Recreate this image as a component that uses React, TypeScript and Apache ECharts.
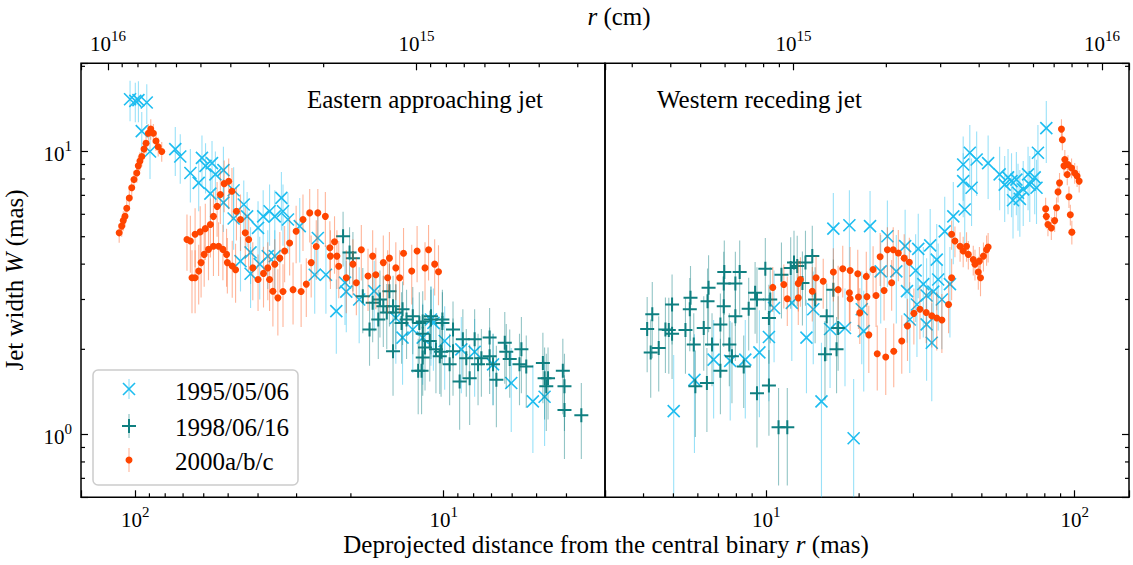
import { useEffect, useRef } from "react";
import * as echarts from "echarts";

type Pt = [number, number, number]; // [r (mas), W (mas), error on W (mas)]

// ---------------- data ----------------
const seriesNames = ["1995/05/06", "1998/06/16", "2000a/b/c"];
const panelTitles = ["Eastern approaching jet", "Western receding jet"];

const east1995: Pt[] = [
  [104, 15.3, 2.5], [100, 15.1, 2.4], [97.7, 15.2, 2.5], [91.8, 14.9, 2.4], [95.3, 11.8, 2.0],
  [89.6, 10.0, 2.0], [74.2, 10.2, 2.0], [71.5, 9.6, 1.9], [66.3, 8.4, 1.8], [62.3, 7.75, 1.6],
  [60.8, 9.5, 1.9], [59.2, 8.9, 1.8], [56.4, 9.1, 1.8], [55, 8.3, 1.7], [57.1, 7.1, 1.5],
  [51.8, 8.6, 1.8], [51.8, 6.6, 1.4], [48, 7.3, 1.5], [48, 5.8, 1.3], [44.5, 6.5, 1.4],
  [43.4, 5.9, 1.3], [42.3, 4.4, 1.0], [42.3, 3.7, 0.9], [45.6, 4.1, 0.9], [40, 5.37, 1.3],
  [38.5, 5.9, 1.4], [36.7, 6.15, 1.5], [35.3, 5.9, 1.4], [33.6, 6.86, 1.6], [33.2, 6.15, 1.5],
  [32, 5.75, 1.4], [29.3, 5.45, 1.4], [25.6, 4.95, 1.3], [37.2, 4.27, 1.0], [35.3, 4.27, 1.0],
  [39.5, 4.0, 1.0], [26.2, 3.67, 1.0], [24.1, 3.67, 1.0], [20.9, 3.44, 1.0], [20.7, 3.2, 0.9],
  [22.3, 2.73, 0.8], [18.8, 3.0, 0.9], [16.8, 3.21, 0.9], [14.3, 2.58, 0.8], [13.6, 2.2, 0.7],
  [12.6, 2.35, 0.7], [11.7, 2.2, 0.7], [11, 2.55, 0.8], [10.8, 2.48, 0.8], [9.93, 2.14, 0.7],
  [8.77, 2.0, 0.6], [7.94, 1.96, 0.6], [6.92, 1.77, 0.5], [6.04, 1.52, 0.5], [5.14, 1.31, 0.45],
  [4.71, 1.36, 0.45],
];

const east1998: Pt[] = [
  [21.2, 5.02, 1.1], [20.2, 4.4, 1.0], [19.7, 4.2, 1.0], [18.3, 3.08, 0.8], [17.4, 2.35, 0.6],
  [17, 2.92, 0.8], [16.3, 2.55, 0.7], [16.1, 3.0, 0.8], [15.7, 2.84, 0.8], [15.3, 2.7, 0.7],
  [15, 3.21, 0.8], [14.6, 2.84, 0.8], [14.6, 1.97, 0.6], [14.3, 2.7, 0.7], [13.7, 2.48, 0.7],
  [13.6, 2.77, 0.7], [13.2, 2.55, 0.7], [12.6, 2.62, 0.7], [12.1, 1.68, 0.5], [12, 2.48, 0.7],
  [11.8, 1.68, 0.5], [11.7, 2.27, 0.6], [11.7, 1.87, 0.5], [11.7, 2.51, 0.7], [11.5, 2.03, 0.6],
  [11.1, 2.14, 0.6], [11, 2.55, 0.7], [11, 2.62, 0.7], [10.6, 2.0, 0.6], [10.3, 1.89, 0.5],
  [10.2, 1.96, 0.6], [10.1, 2.48, 0.7], [10.1, 2.55, 0.7], [9.57, 1.77, 0.5], [9.33, 2.35, 0.6],
  [9.33, 1.97, 0.6], [8.88, 1.54, 0.5], [8.67, 2.17, 0.6], [8.45, 1.86, 0.5], [8.24, 1.58, 0.5],
  [7.94, 2.17, 0.6], [7.74, 1.77, 0.5], [7.55, 1.86, 0.5], [7.1, 2.2, 0.6], [7.1, 1.89, 0.5],
  [6.92, 1.77, 0.5], [6.75, 1.56, 0.5], [6.34, 2.11, 0.6], [6.27, 1.96, 0.5], [6.11, 1.85, 0.5],
  [5.68, 1.77, 0.5], [5.6, 2.0, 0.6], [5.4, 1.74, 0.5], [4.77, 1.79, 0.5], [4.71, 1.58, 0.45],
  [4.65, 1.48, 0.45], [4.59, 1.58, 0.45], [4.11, 1.68, 0.5], [4.06, 1.48, 0.45], [4.06, 1.22, 0.4],
  [3.58, 1.17, 0.35],
];

const east2000: Pt[] = [
  [112.8, 5.16, 0.4], [110.7, 5.45, 0.45], [109.4, 5.7, 0.45], [108, 5.9, 0.5], [106.6, 6.3, 0.5],
  [104.6, 6.85, 0.55], [102.7, 7.45, 0.6], [101, 7.96, 0.6], [98.9, 8.4, 0.65], [97.8, 8.9, 0.7],
  [96.6, 9.25, 0.7], [95.3, 9.6, 0.75], [93.7, 10.2, 0.8], [92.3, 10.7, 0.85], [90.7, 11.6, 0.9],
  [89.1, 12.0, 1.0], [87.4, 11.6, 0.9], [85.7, 10.9, 0.85], [84.3, 10.4, 0.8], [82.1, 10.0, 0.8],
  [68, 4.89, 1.1], [66.3, 4.83, 1.1], [64, 5.1, 1.2], [61.6, 5.2, 1.2], [59.3, 5.34, 1.2],
  [57.1, 5.52, 1.3], [55.8, 5.9, 1.3], [54.3, 6.4, 1.4], [53, 7.05, 1.5], [51.5, 7.7, 1.6],
  [49.8, 7.85, 1.6], [48.6, 7.24, 1.5], [47, 6.15, 1.3], [45.6, 5.75, 1.3], [44, 5.16, 1.2],
  [42.9, 4.89, 1.1], [65.5, 3.58, 0.9], [64, 3.58, 0.9], [62.3, 3.78, 0.9], [61.2, 4.05, 1.0],
  [59.8, 4.33, 1.0], [57.9, 4.51, 1.0], [55.8, 4.63, 1.0], [53.7, 4.63, 1.0], [52, 4.51, 1.0],
  [50.6, 4.33, 1.0], [50.3, 4.05, 0.9], [48.5, 3.94, 0.9], [47.3, 3.82, 0.9], [41.6, 3.88, 0.9],
  [40, 3.53, 0.8], [38.4, 3.71, 0.9], [37.2, 3.88, 0.9], [36.7, 3.53, 0.8], [35.8, 3.21, 0.8],
  [35.3, 4.0, 0.9], [34.5, 3.04, 0.8], [34, 4.2, 1.0], [33.2, 3.2, 0.8], [32.8, 4.45, 1.0],
  [31.6, 4.75, 1.1], [30.8, 3.25, 0.8], [30.1, 5.23, 1.2], [29, 3.2, 0.8], [28.6, 5.75, 1.3],
  [27.9, 3.4, 0.8], [27.2, 6.07, 1.3], [26.9, 4.05, 1.0], [25.9, 4.62, 1.1], [25.6, 6.07, 1.3],
  [24.2, 5.9, 1.3], [23.4, 4.57, 1.1], [23.3, 4.27, 1.0], [22.6, 4.8, 1.1], [22.2, 4.27, 1.0],
  [21.9, 3.93, 0.9], [20.7, 3.58, 0.9], [19.7, 4.0, 0.9], [19.2, 3.44, 0.8], [18.5, 4.5, 1.0],
  [17.6, 3.63, 0.9], [17, 4.27, 1.0], [16.6, 3.67, 0.9], [15.7, 4.05, 1.0], [15.2, 3.58, 0.9],
  [15, 4.2, 1.0], [14.3, 3.88, 0.9], [13.9, 3.58, 0.9], [13.5, 4.37, 1.0], [12.7, 3.78, 0.9],
  [12.2, 4.45, 1.0], [11.5, 3.88, 0.9], [11.2, 4.5, 1.0], [10.7, 4.0, 0.9], [10.4, 3.76, 0.9],
];

const west1995: Pt[] = [
  [5.01, 1.21, 0.7], [5.85, 1.56, 0.7], [6.75, 1.84, 0.7], [7.64, 1.82, 0.7], [8.55, 1.84, 0.7],
  [9.5, 1.95, 0.8], [10.2, 2.21, 0.9], [10.6, 2.8, 1.0], [12.1, 2.92, 1.1], [13.5, 2.2, 0.8],
  [14.2, 2.77, 1.0], [15.1, 1.31, 0.8], [16.1, 2.36, 0.9], [16.5, 5.34, 1.8], [18, 2.38, 0.9],
  [18.6, 5.49, 1.8], [19.2, 0.97, 0.6], [20.4, 2.77, 1.0], [20.7, 2.32, 0.9], [21.7, 5.45, 1.8],
  [23.5, 3.77, 1.3], [24.7, 5.02, 1.7], [26.4, 3.77, 1.3], [28.2, 4.63, 1.6], [28.6, 3.21, 1.1],
  [29.2, 2.55, 0.9], [30.5, 3.8, 1.3], [30.8, 2.88, 1.0], [31.1, 4.53, 1.5], [32.3, 3.4, 1.2],
  [33.1, 3.1, 1.1], [33.1, 2.45, 0.9], [34, 4.66, 1.6], [34.4, 2.11, 0.8], [34.8, 3.2, 1.1],
  [35.7, 4.15, 1.4], [36.1, 3.53, 1.2], [37.1, 3.0, 1.0], [37.9, 5.22, 1.7], [39.4, 3.4, 1.2],
  [40.4, 5.9, 1.9], [43.5, 9.0, 2.3], [43.5, 7.86, 2.0], [44, 6.24, 1.7], [45.7, 9.9, 2.5],
  [46.3, 7.45, 2.0], [48.1, 9.37, 2.4], [52.4, 9.1, 2.3], [57.1, 8.3, 2.1], [59.3, 7.64, 2.0],
  [60.8, 8.1, 2.1], [62.4, 7.86, 2.0], [63.1, 6.73, 1.8], [64.7, 7.96, 2.0], [65.5, 7.15, 1.9],
  [66.4, 6.8, 1.8], [68.1, 7.35, 1.9], [70.6, 8.3, 2.1], [71.5, 7.64, 2.0], [74.2, 8.1, 2.1],
  [75.2, 7.45, 1.9], [76, 9.9, 2.5], [80.9, 12.1, 3.0],
];

const west1998: Pt[] = [
  [4.11, 2.36, 0.7], [4.22, 1.95, 0.6], [4.27, 2.66, 0.8], [4.48, 2.02, 0.6], [4.71, 2.35, 0.7],
  [4.83, 2.34, 0.7], [4.95, 2.88, 0.8], [4.95, 2.27, 0.7], [5.47, 2.34, 0.7], [5.65, 2.77, 0.8],
  [5.68, 3.04, 0.9], [5.82, 2.08, 0.6], [5.89, 1.48, 0.5], [6.27, 2.38, 0.7], [6.42, 1.52, 0.5],
  [6.45, 2.96, 0.9], [6.5, 3.3, 1.0], [6.67, 2.08, 0.6], [7.1, 1.68, 0.5], [7.1, 2.45, 0.7],
  [7.28, 2.84, 0.8], [7.28, 3.42, 1.0], [7.31, 3.75, 1.1], [7.59, 2.08, 0.6], [7.74, 1.89, 0.6],
  [7.94, 3.42, 1.0], [7.94, 2.62, 0.8], [8.2, 3.75, 1.1], [8.45, 1.74, 0.5], [8.77, 2.78, 0.8],
  [9.2, 3.17, 0.9], [9.33, 3.0, 0.9], [9.33, 1.4, 0.5], [9.93, 3.85, 1.1], [10.2, 1.49, 0.5],
  [10.2, 2.58, 0.8], [10.3, 3.0, 0.9], [10.96, 1.06, 0.4], [11.7, 1.06, 0.4], [11.2, 3.67, 1.1],
  [12.0, 3.88, 1.1], [12.3, 4.05, 1.2], [12.6, 3.94, 1.1], [13.1, 3.43, 1.0], [13.4, 4.05, 1.2],
  [14.1, 4.27, 1.2], [14.4, 3.0, 0.9], [15.5, 1.92, 0.6], [15.7, 2.62, 0.8], [16.5, 3.25, 0.9],
  [16.9, 2.0, 0.6], [17.1, 2.38, 0.7],
];

const west2000: Pt[] = [
  [10.5, 3.31, 0.6], [11.4, 3.39, 0.6], [11.7, 3.02, 0.6], [12.7, 3.42, 0.7], [12.9, 3.53, 0.7],
  [12.7, 3.04, 0.6], [14.1, 3.21, 0.7], [14.5, 3.58, 0.7], [15.3, 3.48, 0.7], [16.5, 3.75, 0.8],
  [17.1, 3.25, 0.7], [17.7, 3.85, 0.8], [18.7, 3.8, 0.8], [18.6, 3.17, 0.7], [18.7, 3.02, 0.7],
  [19.8, 3.7, 0.8], [19.9, 3.06, 0.7], [20.1, 2.69, 0.6], [21.1, 3.62, 0.8], [21.2, 3.07, 0.7],
  [21.5, 2.25, 0.6], [22.2, 3.83, 0.8], [22.7, 3.1, 0.7], [22.9, 1.93, 0.5], [23.4, 4.25, 0.9],
  [24.1, 3.23, 0.7], [24.4, 1.88, 0.5], [24.7, 4.5, 0.9], [25.5, 3.44, 0.7], [25.8, 4.5, 0.9],
  [25.9, 1.97, 0.5], [26.8, 4.38, 0.9], [27.5, 2.14, 0.5], [28, 4.2, 0.9], [28.7, 2.42, 0.6],
  [29.1, 4.06, 0.9], [30.1, 2.68, 0.6], [31.5, 2.77, 0.6], [33, 2.7, 0.6], [34.4, 2.63, 0.6],
  [35.7, 2.58, 0.6], [37.1, 2.54, 0.6], [39, 2.88, 0.6], [39.9, 3.58, 0.6], [39.9, 5.1, 0.6],
  [40.9, 4.83, 0.6], [42.5, 4.63, 0.55], [43.5, 4.45, 0.55], [44.6, 4.63, 0.55], [45.2, 4.33, 0.5],
  [46.9, 4.15, 0.5], [47.5, 4.0, 0.5], [48.7, 3.75, 0.5], [49.1, 4.1, 0.5], [49.5, 3.58, 0.5],
  [50.6, 4.27, 0.5], [51.8, 4.5, 0.55], [52.4, 4.6, 0.55], [80.5, 6.27, 0.6], [80.9, 5.9, 0.55],
  [81.9, 5.52, 0.5], [84, 5.37, 0.5], [86.1, 5.7, 0.5], [87.3, 6.33, 0.55], [88.3, 7.2, 0.6],
  [89.3, 7.75, 0.65], [90.6, 12.0, 1.0], [91.2, 11.0, 0.9], [92.3, 8.9, 0.7], [92.9, 9.37, 0.75],
  [94.6, 8.3, 0.7], [95.1, 9.0, 0.7], [95.8, 6.92, 0.6], [96.8, 5.98, 0.5], [97.7, 8.75, 0.7],
  [97.9, 5.19, 0.5], [100, 8.4, 0.7], [101.8, 8.2, 0.7], [103.4, 7.86, 0.7],
];

// axis extents and tick values
const masRange: [number, number] = [3, 150];
const widthRange: [number, number] = [0.6, 20.5];
const CM_PER_MAS = 8.16e13;
const minorMas = [4, 5, 6, 7, 8, 9, 20, 30, 40, 50, 60, 70, 80, 90];
const minorCm = [3e14, 4e14, 5e14, 6e14, 7e14, 8e14, 9e14, 2e15, 3e15, 4e15, 5e15, 6e15, 7e15, 8e15, 9e15];
const minorW = [0.7, 0.8, 0.9, 2, 3, 4, 5, 6, 7, 8, 9, 20];

// ---------------- styling ----------------
const FONT = '"Liberation Serif", "Times New Roman", Times, serif';
const C95 = "#1dbdf0";
const C98 = "#0f7f80";
const C00 = "#ff4500";

const G = { top: 63.3, height: 434, width: 524, leftA: 81, leftB: 605 };

function powLabel(v: number) {
  const e = Math.log10(v);
  const n = Math.round(e);
  if (Math.abs(e - n) > 1e-6) return "";
  return `{b|10}{s|${n}}`;
}

const labelRich = {
  b: { fontFamily: FONT, fontSize: 21, color: "#000", lineHeight: 26, verticalAlign: "bottom" },
  s: { fontFamily: FONT, fontSize: 15, color: "#000", lineHeight: 13, verticalAlign: "top" },
};

function logAxis(gridIndex: number, position: string, min: number, max: number, inverse: boolean, showLabel: boolean, margin: number) {
  return {
    type: "log",
    logBase: 10,
    gridIndex,
    position,
    min,
    max,
    inverse,
    axisLine: { show: false },
    splitLine: { show: false },
    axisTick: { show: true, inside: true, length: 7, lineStyle: { color: "#000", width: 1.2 } },
    minorTick: { show: false },
    axisLabel: { show: showLabel, formatter: powLabel, rich: labelRich, margin },
  };
}

type Kind = "x" | "plus" | "dot";

function dataSeries(name: string, data: Pt[], kind: Kind, color: string, errOpacity: number, xAxisIndex: number, yAxisIndex: number) {
  return {
    type: "custom",
    name,
    xAxisIndex,
    yAxisIndex,
    clip: true,
    silent: true,
    dimensions: ["r", "w", "e"],
    encode: { x: 0, y: 1 },
    data,
    renderItem: (_params: any, api: any) => {
      const r = api.value(0) as number;
      const w = api.value(1) as number;
      const e = api.value(2) as number;
      const p = api.coord([r, w]);
      const hi = api.coord([r, w + e]);
      const lo = api.coord([r, Math.max(w - e, 0.05)]);
      const children: any[] = [
        {
          type: "line",
          shape: { x1: p[0], y1: hi[1], x2: p[0], y2: lo[1] },
          style: { stroke: color, opacity: errOpacity, lineWidth: 1.1 },
        },
      ];
      if (kind === "x") {
        const s = 6;
        children.push(
          { type: "line", shape: { x1: p[0] - s, y1: p[1] - s, x2: p[0] + s, y2: p[1] + s }, style: { stroke: color, lineWidth: 1.6 } },
          { type: "line", shape: { x1: p[0] - s, y1: p[1] + s, x2: p[0] + s, y2: p[1] - s }, style: { stroke: color, lineWidth: 1.6 } }
        );
      } else if (kind === "plus") {
        const s = 7;
        children.push(
          { type: "line", shape: { x1: p[0] - s, y1: p[1], x2: p[0] + s, y2: p[1] }, style: { stroke: color, lineWidth: 2 } },
          { type: "line", shape: { x1: p[0], y1: p[1] - s, x2: p[0], y2: p[1] + s }, style: { stroke: color, lineWidth: 2 } }
        );
      } else {
        children.push({ type: "circle", shape: { cx: p[0], cy: p[1], r: 3.5 }, style: { fill: color } });
      }
      return { type: "group", children };
    },
  };
}

function tickSeries(values: number[][], xAxisIndex: number, yAxisIndex: number, dx: number, dy: number) {
  return {
    type: "custom",
    xAxisIndex,
    yAxisIndex,
    clip: false,
    silent: true,
    z: 5,
    encode: { x: 0, y: 1 },
    data: values,
    renderItem: (_params: any, api: any) => {
      const c = api.coord([api.value(0), api.value(1)]);
      return {
        type: "line",
        shape: { x1: c[0], y1: c[1], x2: c[0] + dx, y2: c[1] + dy },
        style: { stroke: "#000", lineWidth: 1.2 },
      };
    },
  };
}

function legendGraphic() {
  const x0 = 93, y0 = 370, w = 205, h = 115;
  const mx = 129;
  const rows = [389, 426, 460];
  const textY = [391, 427, 461];
  const children: any[] = [
    { type: "rect", shape: { x: x0, y: y0, width: w, height: h, r: 5 }, style: { fill: "rgba(255,255,255,0.85)", stroke: "#cccccc", lineWidth: 1.5 } },
  ];
  // 1995 marker
  children.push(
    { type: "line", shape: { x1: mx, y1: rows[0] - 10, x2: mx, y2: rows[0] + 10 }, style: { stroke: C95, opacity: 0.5, lineWidth: 1.1 } },
    { type: "line", shape: { x1: mx - 6, y1: rows[0] - 6, x2: mx + 6, y2: rows[0] + 6 }, style: { stroke: C95, lineWidth: 1.6 } },
    { type: "line", shape: { x1: mx - 6, y1: rows[0] + 6, x2: mx + 6, y2: rows[0] - 6 }, style: { stroke: C95, lineWidth: 1.6 } }
  );
  // 1998 marker
  children.push(
    { type: "line", shape: { x1: mx, y1: rows[1] - 12, x2: mx, y2: rows[1] + 12 }, style: { stroke: C98, opacity: 0.5, lineWidth: 1.1 } },
    { type: "line", shape: { x1: mx - 7, y1: rows[1], x2: mx + 7, y2: rows[1] }, style: { stroke: C98, lineWidth: 2 } },
    { type: "line", shape: { x1: mx, y1: rows[1] - 7, x2: mx, y2: rows[1] + 7 }, style: { stroke: C98, lineWidth: 2 } }
  );
  // 2000 marker
  children.push(
    { type: "line", shape: { x1: mx, y1: rows[2] - 12, x2: mx, y2: rows[2] + 12 }, style: { stroke: C00, opacity: 0.4, lineWidth: 1.1 } },
    { type: "circle", shape: { cx: mx, cy: rows[2], r: 3.5 }, style: { fill: C00 } }
  );
  seriesNames.forEach((n, i) => {
    children.push({
      type: "text",
      x: 175,
      y: textY[i],
      style: { text: n, fontFamily: FONT, fontSize: 25, fill: "#000", align: "left", verticalAlign: "middle" },
    });
  });
  return { type: "group", children };
}

export default function App() {
  const ref = useRef<HTMLDivElement>(null);

  useEffect(() => {
    if (!ref.current) return;
    const chart = echarts.init(ref.current, undefined, { renderer: "svg" });

    const cmMin = masRange[0] * CM_PER_MAS;
    const cmMax = masRange[1] * CM_PER_MAS;

    const option: any = {
      animation: false,
      backgroundColor: "#fff",
      textStyle: { fontFamily: FONT },
      grid: [
        { left: G.leftA, top: G.top, width: G.width, height: G.height, show: true, borderColor: "#000", borderWidth: 1.5, backgroundColor: "transparent" },
        { left: G.leftB, top: G.top, width: G.width, height: G.height, show: true, borderColor: "#000", borderWidth: 1.5, backgroundColor: "transparent" },
      ],
      xAxis: [
        logAxis(0, "bottom", masRange[0], masRange[1], true, true, 7),
        logAxis(0, "top", cmMin, cmMax, true, true, 9),
        logAxis(1, "bottom", masRange[0], masRange[1], false, true, 7),
        logAxis(1, "top", cmMin, cmMax, false, true, 9),
      ],
      yAxis: [
        logAxis(0, "left", widthRange[0], widthRange[1], false, true, 9),
        logAxis(1, "right", widthRange[0], widthRange[1], false, false, 9),
      ],
      series: [
        dataSeries(seriesNames[0], east1995, "x", C95, 0.45, 0, 0),
        dataSeries(seriesNames[1], east1998, "plus", C98, 0.45, 0, 0),
        dataSeries(seriesNames[2], east2000, "dot", C00, 0.4, 0, 0),
        dataSeries(seriesNames[0], west1995, "x", C95, 0.45, 2, 1),
        dataSeries(seriesNames[1], west1998, "plus", C98, 0.45, 2, 1),
        dataSeries(seriesNames[2], west2000, "dot", C00, 0.4, 2, 1),
        // minor ticks (inward)
        tickSeries(minorMas.map((v) => [v, widthRange[0]]), 0, 0, 0, -4),
        tickSeries(minorMas.map((v) => [v, widthRange[0]]), 2, 1, 0, -4),
        tickSeries(minorCm.map((v) => [v, widthRange[1]]), 1, 0, 0, 4),
        tickSeries(minorCm.map((v) => [v, widthRange[1]]), 3, 1, 0, 4),
        tickSeries(minorW.map((w) => [masRange[1], w]), 0, 0, 4, 0),
        tickSeries(minorW.map((w) => [masRange[1], w]), 2, 1, -4, 0),
      ],
      graphic: [
        {
          type: "text",
          x: 307,
          y: 99,
          style: { text: panelTitles[0], fontFamily: FONT, fontSize: 25, fill: "#000", align: "left", verticalAlign: "middle" },
        },
        {
          type: "text",
          x: 657,
          y: 99,
          style: { text: panelTitles[1], fontFamily: FONT, fontSize: 25, fill: "#000", align: "left", verticalAlign: "middle" },
        },
        {
          type: "text",
          x: 606,
          y: 544,
          style: {
            text: "{n|Deprojected distance from the central binary }{i|r}{n| (mas)}",
            align: "center",
            verticalAlign: "middle",
            rich: {
              n: { fontFamily: FONT, fontSize: 25, fill: "#000" },
              i: { fontFamily: FONT, fontSize: 25, fontStyle: "italic", fill: "#000" },
            },
          },
        },
        {
          type: "text",
          x: 619,
          y: 16,
          style: {
            text: "{i|r}{n| (cm)}",
            align: "center",
            verticalAlign: "middle",
            rich: {
              n: { fontFamily: FONT, fontSize: 25, fill: "#000" },
              i: { fontFamily: FONT, fontSize: 25, fontStyle: "italic", fill: "#000" },
            },
          },
        },
        {
          type: "text",
          x: 14,
          y: 280,
          rotation: Math.PI / 2,
          style: {
            text: "{n|Jet width }{i|W}{n| (mas)}",
            align: "center",
            verticalAlign: "middle",
            rich: {
              n: { fontFamily: FONT, fontSize: 25, fill: "#000" },
              i: { fontFamily: FONT, fontSize: 25, fontStyle: "italic", fill: "#000" },
            },
          },
        },
        legendGraphic(),
      ],
    };

    chart.setOption(option);
    return () => chart.dispose();
  }, []);

  return (
    <div
      ref={ref}
      style={{ position: "fixed", left: 0, top: 0, width: 1133, height: 565, background: "#fff" }}
    />
  );
}
